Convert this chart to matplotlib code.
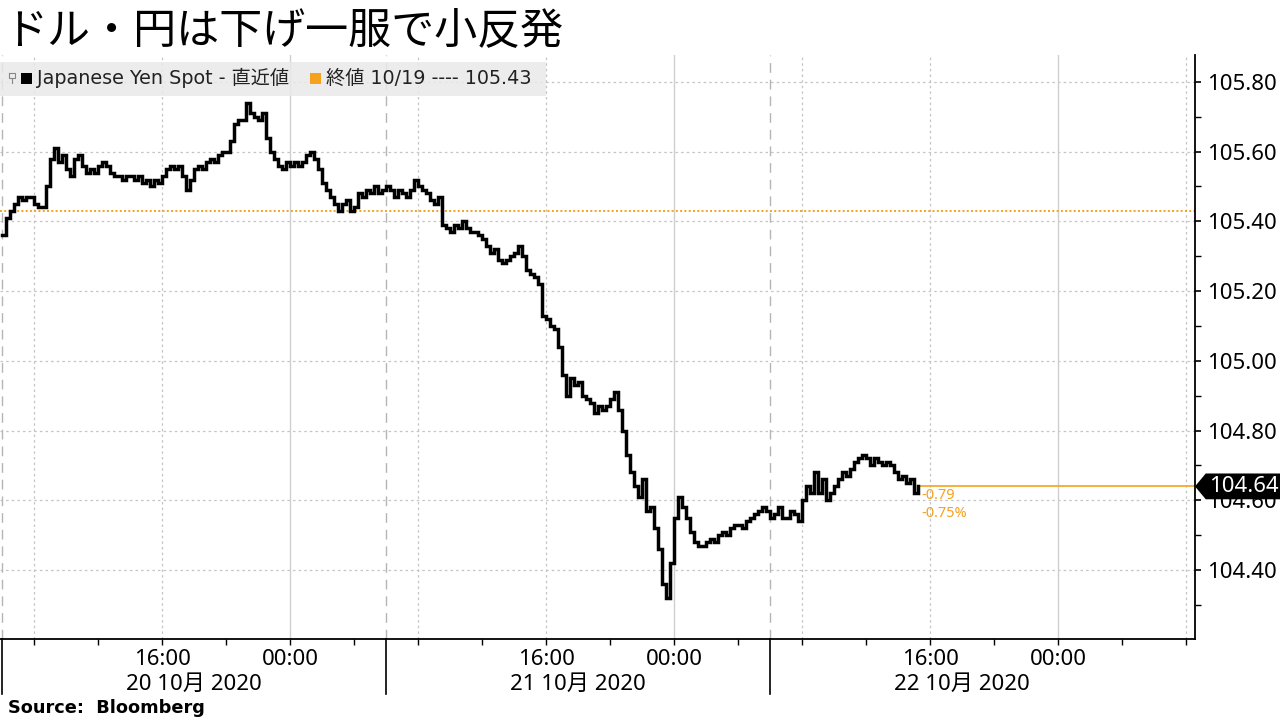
import numpy as np
import matplotlib
matplotlib.use("Agg")
import matplotlib.pyplot as plt
from matplotlib.patches import Polygon, Rectangle
from matplotlib.lines import Line2D
import matplotlib.transforms as mtrans

# ---------------- data ----------------
title = "ドル・円は下げ一服で小反発"
series_name = "Japanese Yen Spot - 直近値"
ref_label = "終値 10/19 ---- 105.43"
ref_value = 105.43
source_text = "Source:  Bloomberg"

# USD/JPY, 15-minute steps starting 20 Oct 2020 06:00 (hours since start)
usdjpy = [
    105.36, 105.41, 105.43, 105.45,
    105.47, 105.46, 105.47, 105.47,
    105.45, 105.44, 105.44, 105.50,
    105.58, 105.61, 105.57, 105.59,
    105.55, 105.53, 105.58, 105.59,
    105.56, 105.54, 105.55, 105.54,
    105.56, 105.57, 105.56, 105.54,
    105.53, 105.53, 105.52, 105.53,
    105.53, 105.52, 105.53, 105.51,
    105.52, 105.50, 105.52, 105.51,
    105.53, 105.55, 105.56, 105.55,
    105.56, 105.53, 105.49, 105.52,
    105.55, 105.56, 105.55, 105.57,
    105.58, 105.57, 105.59, 105.60,
    105.60, 105.63, 105.68, 105.69,
    105.69, 105.74, 105.71, 105.70,
    105.69, 105.71, 105.64, 105.60,
    105.58, 105.56, 105.55, 105.57,
    105.56, 105.57, 105.56, 105.57,
    105.59, 105.60, 105.58, 105.55,
    105.51, 105.49, 105.47, 105.45,
    105.43, 105.45, 105.46, 105.43,
    105.44, 105.48, 105.47, 105.49,
    105.48, 105.50, 105.48, 105.49,
    105.50, 105.49, 105.47, 105.49,
    105.48, 105.47, 105.49, 105.52,
    105.50, 105.49, 105.48, 105.46,
    105.45, 105.47, 105.39, 105.38,
    105.37, 105.39, 105.38, 105.40,
    105.38, 105.37, 105.37, 105.36,
    105.35, 105.33, 105.31, 105.32,
    105.29, 105.28, 105.29, 105.30,
    105.31, 105.33, 105.30, 105.26,
    105.25, 105.24, 105.22, 105.13,
    105.12, 105.10, 105.09, 105.04,
    104.96, 104.90, 104.95, 104.93,
    104.94, 104.90, 104.89, 104.88,
    104.85, 104.87, 104.86, 104.87,
    104.89, 104.91, 104.86, 104.80,
    104.73, 104.68, 104.64, 104.61,
    104.66, 104.57, 104.58, 104.52,
    104.46, 104.36, 104.32, 104.42,
    104.55, 104.61, 104.58, 104.55,
    104.51, 104.48, 104.47, 104.47,
    104.48, 104.49, 104.48, 104.50,
    104.51, 104.50, 104.52, 104.53,
    104.53, 104.52, 104.54, 104.55,
    104.56, 104.57, 104.58, 104.57,
    104.55, 104.56, 104.58, 104.55,
    104.55, 104.57, 104.56, 104.54,
    104.60, 104.64, 104.62, 104.68,
    104.62, 104.66, 104.60, 104.62,
    104.64, 104.66, 104.68, 104.67,
    104.69, 104.71, 104.72, 104.73,
    104.72, 104.70, 104.72, 104.71,
    104.70, 104.71, 104.70, 104.68,
    104.66, 104.67, 104.65, 104.66,
    104.62, 104.64,
]
step_hours = 0.25

y_ticks = [104.40, 104.60, 104.80, 105.00, 105.20, 105.40, 105.60, 105.80]
y_minor = [104.30, 104.50, 104.70, 104.90, 105.10, 105.30, 105.50, 105.70]

# x positions in hours since 20 Oct 06:00
x_tick_hours = [2, 6, 10, 14, 18, 22, 26, 30, 34, 38, 42, 46, 50, 54, 58, 62, 66, 70, 74]
x_label_hours = [10, 18, 34, 42, 58, 66]
x_label_text = ["16:00", "00:00", "16:00", "00:00", "16:00", "00:00"]
day_start_hours = [0, 24, 48]
day_labels = ["20 10月 2020", "21 10月 2020", "22 10月 2020"]
grid_dotted_hours = [2, 10, 26, 34, 50, 58, 74]
grid_solid_hours = [18, 42, 66]

# ---------------- style ----------------
ORANGE = "#F5A21E"
GRID = "#c4c4c4"
plt.rcParams["font.family"] = ["Noto Sans", "Noto Sans CJK JP", "DejaVu Sans"]

fig = plt.figure(figsize=(12.8, 7.2), dpi=100)
ax = fig.add_axes([0.0, 1 - 639 / 720, 1195 / 1280, (639 - 55) / 720])

t = np.arange(len(usdjpy)) * step_hours
v = np.array(usdjpy)

ax.set_xlim(-0.125, 74.56)
ax.set_ylim(104.2024, 105.877)

# grid lines
for y in y_ticks:
    ax.axhline(y, color=GRID, lw=0.9, ls=(0, (2, 2.5)), zorder=0)
for h in grid_dotted_hours:
    ax.axvline(h, color=GRID, lw=0.9, ls=(0, (2, 2.5)), zorder=0)
for h in grid_solid_hours:
    ax.axvline(h, color="#cfcfcf", lw=1.0, zorder=0)
for h in day_start_hours:
    ax.axvline(h, color="#b5b5b5", lw=1.0, ls=(0, (7, 5)), zorder=0)

# reference line
ax.axhline(ref_value, color=ORANGE, lw=1.4, ls=(0, (1, 1.2)), zorder=2)

# price series
ax.plot(t, v, color="black", lw=2.5, drawstyle="steps-post", zorder=3,
        solid_joinstyle="miter")

last_t, last_v = t[-1], v[-1]
ax.plot([last_t, 74.56], [last_v, last_v], color=ORANGE, lw=1.2, zorder=2)

chg = last_v - ref_value
pct = chg / ref_value * 100
ax.annotate(f"{chg:.2f}", (last_t, last_v), xytext=(3, -9), textcoords="offset pixels",
            color=ORANGE, fontsize=10.5, va="center", ha="left")
ax.annotate(f"{pct:.2f}%", (last_t, last_v), xytext=(3, -27), textcoords="offset pixels",
            color=ORANGE, fontsize=10.5, va="center", ha="left")

# spines
for s in ["left", "top"]:
    ax.spines[s].set_visible(False)
ax.spines["bottom"].set_color("black")
ax.spines["right"].set_color("black")
ax.spines["bottom"].set_linewidth(1.3)
ax.spines["right"].set_linewidth(1.3)

# y axis on right
ax.yaxis.tick_right()
ax.set_yticks(y_ticks)
ax.set_yticklabels([f"{y:.2f}" for y in y_ticks])
ax.set_yticks(y_minor, minor=True)
ax.tick_params(axis="y", which="major", direction="out", length=4, width=1.2,
               pad=5, labelsize=16, colors="black")
ax.tick_params(axis="y", which="minor", direction="out", length=4, width=1.0)

# x axis
ax.set_xticks(x_tick_hours)
lab = {h: s for h, s in zip(x_label_hours, x_label_text)}
ax.set_xticklabels([lab.get(h, "") for h in x_tick_hours])
ax.tick_params(axis="x", which="major", direction="out", length=4, width=1.0,
               pad=3, labelsize=16, colors="black")

# day boundary long ticks and day labels
trans = mtrans.blended_transform_factory(ax.transData, ax.transAxes)
for h in day_start_hours:
    ax.add_line(Line2D([h, h], [0, -0.095], transform=trans, color="black",
                       lw=1.2, clip_on=False))
for h, s in zip(day_start_hours, day_labels):
    ax.text(h + 12, -0.077, s, transform=trans, ha="center", va="center",
            fontsize=16, color="black")

# price tag on right
ytrans = mtrans.blended_transform_factory(ax.transAxes, ax.transData)
hh = 0.037
tag = Polygon([(1.0, last_v), (1.009, last_v + hh), (1.08, last_v + hh),
               (1.08, last_v - hh), (1.009, last_v - hh)], closed=True,
              transform=ytrans, facecolor="black", edgecolor="none",
              clip_on=False, zorder=10)
ax.add_patch(tag)
ax.text(1.0115, last_v, f"{last_v:.2f}", transform=ytrans, color="white",
        fontsize=16, va="center", ha="left", zorder=11, clip_on=False)

# legend strip
fig.patches.append(Rectangle((0, 1 - 96 / 720), 546 / 1280, 34 / 720,
                             transform=fig.transFigure, facecolor="#e9e9e9",
                             edgecolor="none", alpha=0.85, zorder=5))
# small icon
fig.lines.append(Line2D([9 / 1280, 15 / 1280, 15 / 1280, 9 / 1280, 9 / 1280],
                        [1 - 73 / 720, 1 - 73 / 720, 1 - 78 / 720, 1 - 78 / 720, 1 - 73 / 720],
                        transform=fig.transFigure, color="#888888", lw=0.8, zorder=6))
fig.lines.append(Line2D([12 / 1280, 12 / 1280], [1 - 78 / 720, 1 - 83 / 720],
                        transform=fig.transFigure, color="#888888", lw=0.8, zorder=6))
fig.patches.append(Rectangle((21 / 1280, 1 - 84 / 720), 11 / 1280, 11 / 720,
                             transform=fig.transFigure, facecolor="black",
                             edgecolor="none", zorder=6))
fig.text(37 / 1280, 1 - 78 / 720, series_name, fontsize=13.8, va="center",
         ha="left", color="#222222", family=["DejaVu Sans", "Noto Sans CJK JP"], zorder=6)
fig.patches.append(Rectangle((310 / 1280, 1 - 84 / 720), 11 / 1280, 11 / 720,
                             transform=fig.transFigure, facecolor=ORANGE,
                             edgecolor="none", zorder=6))
fig.text(326 / 1280, 1 - 78 / 720, ref_label, fontsize=13.8, va="center",
         ha="left", color="#222222", family=["DejaVu Sans", "Noto Sans CJK JP"], zorder=6)

# title and source
fig.text(4 / 1280, 1 - 31 / 720, title, fontsize=31, va="center", ha="left",
         color="black", family=["Noto Sans CJK JP", "DejaVu Sans"])
fig.text(8 / 1280, 1 - 708 / 720, source_text, fontsize=12.8, fontweight="bold",
         va="center", ha="left", color="black", family=["DejaVu Sans"])

fig.savefig("out.png", dpi=100)
